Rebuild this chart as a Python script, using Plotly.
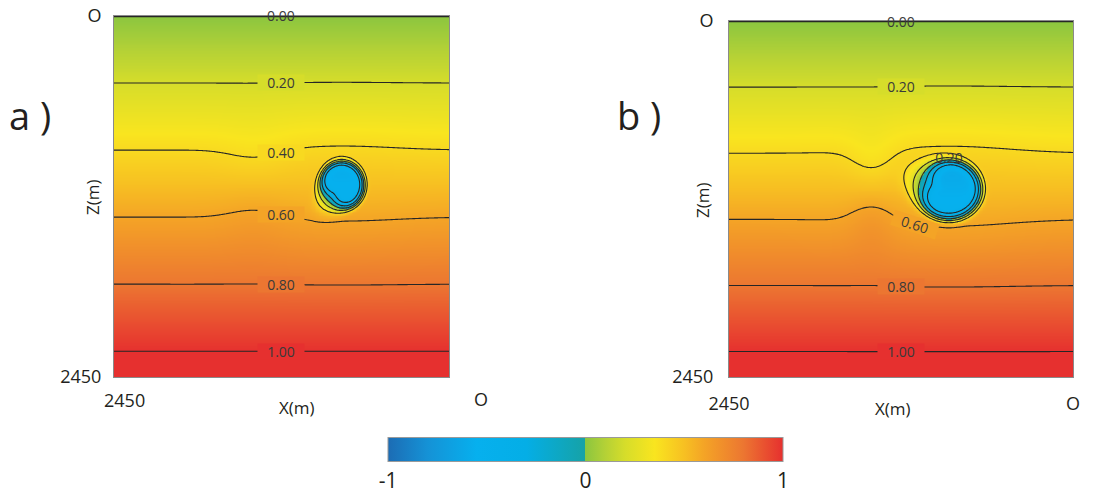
import numpy as np
import plotly.graph_objects as go

# ---- data ----
# background field: value vs depth (from the 0.20-step contour lines)
depth_m = [0, 455, 910, 1365, 1820, 2275, 2450]
depth_value = [-0.002, 0.2, 0.4, 0.6, 0.8, 1.0, 1.077]

# anomaly cores: [x_center, z_center, x_radius, z_radius, amplitude,
#                 soft-side direction x, soft-side direction z]
cores_a = [[785, 1150, 168, 168, -1.05, 0.71, 0.71]]
cores_b = [[885, 1163, 236, 210, -1.08, 0.94, -0.34]]
edge_sharp = [8.0, 2.8]   # exponent on the sharp side / on the soft side
# pinch of the layers left of the blob: [x_center, z_center, x_sigma, z_sigma, amplitude]
pinch_a = [1419, 1150, 170, 220, 0.04]
pinch_b = [1432, 1163, 120, 210, 0.09]
# lift of layers above / push below the blob: [x_center, z_center, x_sigma, z_sigma, amplitude]
lift_a = [785, 1150, 380, 280, 0.02]
lift_b = [885, 1163, 420, 280, 0.035]

contour_levels = [-0.4, 1.0, 0.2]  # start, end, step
label_x = 1227                      # labels sit in the middle of each panel
labels_a = [0.2, 0.4, 0.6, 0.8, 1.0]
labels_b = [0.2, 0.8, 1.0]
cbar_ticks = [-1, 0, 1]
cbar_ticktext = ["-1", "0", "1"]

cs_pos = [-1, -0.8, -0.55, -0.3, -0.02, 0.0, 0.1, 0.2, 0.35, 0.5, 0.6, 0.8, 1.0]
cs_col = ["#1c6cb4", "#1592d6", "#06b0ee", "#04aee6", "#16a2a6", "#8cc63f",
          "#b4d136", "#d6dd2a", "#f9e51f", "#f7c022", "#f4a426", "#ec7631", "#e6302f"]

grid_x = np.linspace(0, 2450, 246)
grid_z = np.linspace(0, 2450, 246)


def build_field(cores, pinch, lift):
    X, Z = np.meshgrid(grid_x, grid_z)
    f = np.interp(Z, depth_m, depth_value)
    anom = np.zeros_like(f)
    p_hard, p_soft = edge_sharp
    for xc, zc, rx, rz, amp, dx, dz in cores:
        nx, nz = (X - xc) / rx, (Z - zc) / rz
        r = np.sqrt(nx ** 2 + nz ** 2) + 1e-9
        cosang = np.clip((nx * dx + nz * dz) / r, 0, 1)
        p = p_hard - (p_hard - p_soft) * cosang ** 2
        anom = np.minimum(anom, amp * np.exp(-r ** p))
    xc, zc, sx, sz, c = pinch
    u, w = (X - xc) / sx, (Z - zc) / sz
    f = f + c * w * np.exp(-(u ** 2 + w ** 2) / 2)
    xc, zc, sx, sz, d = lift
    u, w = (X - xc) / sx, (Z - zc) / sz
    f = f - d * w * np.exp(-(u ** 2 + w ** 2) / 2)
    return f + anom


colorscale = [[(p + 1) / 2, c] for p, c in zip(cs_pos, cs_col)]
colorscale[4][0] = 0.4999


def color_at(v):
    rgb = [tuple(int(c[i:i + 2], 16) for i in (1, 3, 5)) for c in cs_col]
    out = [int(round(np.interp(v, cs_pos, [c[k] for c in rgb]))) for k in range(3)]
    return "rgb(%d,%d,%d)" % tuple(out)


def crossing_depth(field, x_target, level, zlo=0, zhi=2450):
    col = int(np.argmin(np.abs(grid_x - x_target)))
    vals = field[:, col]
    for i in range(len(grid_z) - 1):
        if grid_z[i] < zlo or grid_z[i + 1] > zhi:
            continue
        a, b = vals[i], vals[i + 1]
        if (a - level) * (b - level) <= 0 and a != b:
            t = (level - a) / (b - a)
            return float(grid_z[i] + t * (grid_z[i + 1] - grid_z[i]))
    return float(np.interp(level, depth_value, depth_m))


FONT = "Open Sans"
TXT = "#231f20"
LINE = "#262626"

field_a = build_field(cores_a, pinch_a, lift_a)
field_b = build_field(cores_b, pinch_b, lift_b)

fig = go.Figure()
for fld, xa, ya, show in [(field_a, "x", "y", True), (field_b, "x2", "y2", False)]:
    fig.add_trace(go.Heatmap(
        x=grid_x, y=grid_z, z=fld, xaxis=xa, yaxis=ya, zmin=-1, zmax=1,
        colorscale=colorscale, zsmooth="best", showscale=show, hoverinfo="skip",
        colorbar=dict(orientation="h", x=0.529, xanchor="center",
                      y=0.055, yanchor="middle", len=415, lenmode="pixels",
                      thickness=24, thicknessmode="pixels",
                      outlinecolor="#9a9a9a", outlinewidth=1,
                      tickvals=cbar_ticks, ticktext=cbar_ticktext, ticks="",
                      tickfont=dict(size=21, color=TXT, family=FONT))))
    fig.add_trace(go.Contour(
        x=grid_x, y=grid_z, z=fld, xaxis=xa, yaxis=ya,
        contours=dict(coloring="none", start=contour_levels[0],
                      end=contour_levels[1], size=contour_levels[2]),
        line=dict(color=LINE, width=1.1, smoothing=1),
        showscale=False, hoverinfo="skip"))

W, H = 1107, 491
ax_common = dict(showgrid=False, zeroline=False, showline=True, mirror=True,
                 linecolor="#8a8a8a", linewidth=1, ticks="",
                 tickfont=dict(size=18, color=TXT, family=FONT))

fig.update_layout(
    width=W, height=H, margin=dict(l=0, r=0, t=0, b=0, autoexpand=False),
    paper_bgcolor="white", plot_bgcolor="white",
    font=dict(family=FONT, color=TXT),
    xaxis=dict(domain=[114 / W, 449 / W], range=[2450, 0], anchor="y",
               showticklabels=False, **ax_common),
    yaxis=dict(domain=[1 - 377 / H, 1 - 16 / H], range=[2450, 0], anchor="x",
               tickvals=[0, 2450], ticktext=["O", "2450"], ticklabelstandoff=8,
               **ax_common),
    xaxis2=dict(domain=[729 / W, 1073 / W], range=[2450, 0], anchor="y2",
                tickvals=[2450, 0], ticktext=["2450", "O"], ticklabelstandoff=10,
                **ax_common),
    yaxis2=dict(domain=[1 - 377 / H, 1 - 21 / H], range=[2450, 0], anchor="x2",
                tickvals=[0, 2450], ticktext=["O", "2450"], ticklabelstandoff=11,
                **ax_common),
)


def ann(text, x, y, size=18, angle=0, xanchor="center"):
    fig.add_annotation(text=text, x=x / W, y=1 - y / H, xref="paper", yref="paper",
                       showarrow=False, textangle=angle, xanchor=xanchor,
                       yanchor="middle", font=dict(size=size, color=TXT, family=FONT))


def contour_label(level, fld, xa, ya, x=label_x, angle=0, bg=True, zlo=0, zhi=2450):
    z = crossing_depth(fld, x, level, zlo, zhi)
    fig.add_annotation(text="%.2f" % level, x=x, y=z, xref=xa, yref=ya,
                       showarrow=False, textangle=angle, width=46, height=15,
                       borderpad=0, bgcolor=color_at(level) if bg else None,
                       font=dict(size=14, color="#3a3a3a", family=FONT))


for lv in labels_a:
    contour_label(lv, field_a, "x", "y")
for lv in labels_b:
    contour_label(lv, field_b, "x2", "y2")
contour_label(0.6, field_b, "x2", "y2", x=1126, angle=18, zlo=1250)
contour_label(0.2, field_b, "x2", "y2", x=885, bg=False, zlo=900, zhi=1163)
# 0.00 contour runs along the top edge
for xa, ya in [("x", "y"), ("x2", "y2")]:
    fig.add_annotation(text="0.00", x=label_x, y=0, xref=xa, yref=ya, showarrow=False,
                       font=dict(size=14, color="#3a3a3a", family=FONT))

# panel a x tick labels (offset in the original)
ann("2450", 124, 400)
ann("O", 481, 399)
# axis titles
ann("X(m)", 297, 407, size=17)
ann("X(m)", 893, 408, size=17)
ann("Z(m)", 92, 197, size=17, angle=-90)
ann("Z(m)", 702, 200, size=17, angle=-90)
# panel labels
ann("a )", 30, 115, size=38)
ann("b )", 639, 115, size=38)

fig.write_html("out.html", config={"displayModeBar": False},
               post_script="document.body.style.margin='0px';")
